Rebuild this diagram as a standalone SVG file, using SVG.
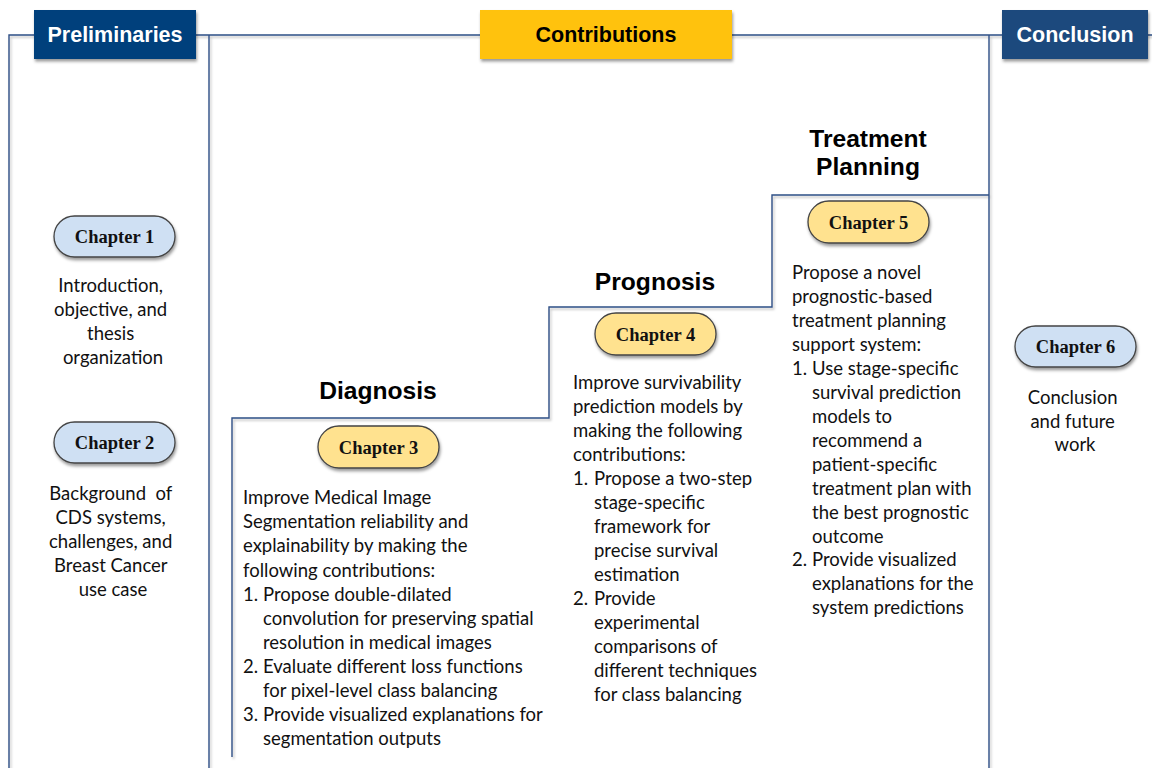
<svg xmlns="http://www.w3.org/2000/svg" width="1152" height="768" viewBox="0 0 1152 768">
  <defs>
    <filter id="lineShadow" x="-5%" y="-5%" width="110%" height="110%">
      <feDropShadow dx="1.5" dy="2" stdDeviation="1.2" flood-color="#000" flood-opacity="0.25"/>
    </filter>
    <filter id="boxShadow" x="-10%" y="-20%" width="120%" height="150%">
      <feDropShadow dx="1" dy="2.5" stdDeviation="1.5" flood-color="#000" flood-opacity="0.4"/>
    </filter>
  </defs>
  <style>
    .frame { fill: none; stroke: #2f5086; stroke-width: 1.4; }
    .hdr-text { font-family: "Liberation Sans", Arial, sans-serif; font-weight: bold; font-size: 21.5px; text-anchor: middle; }
    .stage { font-family: "Liberation Sans", Arial, sans-serif; font-weight: bold; font-size: 24.6px; text-anchor: middle; fill: #000; }
    .pill-blue { fill: #cfe0f3; stroke: #444; stroke-width: 1.3; }
    .pill-gold { fill: #ffe28f; stroke: #444; stroke-width: 1.3; }
    .pill-text { font-family: "Liberation Serif", "Times New Roman", serif; font-weight: bold; font-size: 18.5px; text-anchor: middle; fill: #111; }
    .body { font-family: Lato, "Open Sans", sans-serif; font-size: 18.5px; fill: #111; }
    .mid { text-anchor: middle; }
    .pre { white-space: pre; }
  </style>

  <!-- frame lines and stair steps -->
  <g id="connectors" filter="url(#lineShadow)">
    <path class="frame" d="M9,768 V35 H1152"/>
    <path class="frame" d="M209,35 V768"/>
    <path class="frame" d="M989,35 V768"/>
    <path class="frame" d="M232,757 V418 H549 V307 H772 V195 H989"/>
  </g>

  <!-- section headers -->
  <g id="hdr-preliminaries">
    <rect x="34" y="10" width="162" height="49" fill="#023f7c" filter="url(#boxShadow)"/>
    <text class="hdr-text" x="115" y="41.5" fill="#fff">Preliminaries</text>
  </g>
  <g id="hdr-contributions">
    <rect x="480" y="10" width="252" height="49" fill="#ffc20e" filter="url(#boxShadow)"/>
    <text class="hdr-text" x="606" y="41.5" fill="#000">Contributions</text>
  </g>
  <g id="hdr-conclusion">
    <rect x="1002" y="10" width="146" height="49" fill="#1f497d" filter="url(#boxShadow)"/>
    <text class="hdr-text" x="1075" y="41.5" fill="#fff">Conclusion</text>
  </g>

  <!-- stage titles -->
  <g id="stage-diagnosis"><text class="stage" x="378" y="398.5">Diagnosis</text></g>
  <g id="stage-prognosis"><text class="stage" x="655" y="289.5">Prognosis</text></g>
  <g id="stage-treatment">
    <text class="stage" x="868" y="146.5">Treatment</text>
    <text class="stage" x="868" y="174.5">Planning</text>
  </g>

  <!-- Chapter 1 -->
  <g id="chapter1">
    <rect class="pill-blue" x="54" y="216" width="121" height="41" rx="20.5" filter="url(#boxShadow)"/>
    <text class="pill-text" x="114.5" y="243">Chapter 1</text>
    <text class="body mid" x="113">
      <tspan x="113" y="292">Introduction,</tspan>
      <tspan x="113" y="316">objective, and</tspan>
      <tspan x="113" y="340">thesis</tspan>
      <tspan x="113" y="364">organization</tspan>
    </text>
  </g>

  <!-- Chapter 2 -->
  <g id="chapter2">
    <rect class="pill-blue" x="54" y="422" width="121" height="41" rx="20.5" filter="url(#boxShadow)"/>
    <text class="pill-text" x="114.5" y="449">Chapter 2</text>
    <text class="body mid" x="113">
      <tspan class="pre" x="113" y="500">Background  of</tspan>
      <tspan x="113" y="524">CDS systems,</tspan>
      <tspan x="113" y="548">challenges, and</tspan>
      <tspan x="113" y="572">Breast Cancer</tspan>
      <tspan x="113" y="596">use case</tspan>
    </text>
  </g>

  <!-- Chapter 3 -->
  <g id="chapter3">
    <rect class="pill-gold" x="318" y="426" width="121" height="42" rx="21" filter="url(#boxShadow)"/>
    <text class="pill-text" x="378.5" y="453.5">Chapter 3</text>
    <text class="body">
      <tspan x="243" y="504">Improve Medical Image</tspan>
      <tspan x="243" y="528">Segmentation reliability and</tspan>
      <tspan x="243" y="552">explainability by making the</tspan>
      <tspan x="243" y="577">following contributions:</tspan>
      <tspan x="243" y="601">1.</tspan><tspan x="263" y="601">Propose double-dilated</tspan>
      <tspan x="263" y="625">convolution for preserving spatial</tspan>
      <tspan x="263" y="649">resolution in medical images</tspan>
      <tspan x="243" y="673">2.</tspan><tspan x="263" y="673">Evaluate different loss functions</tspan>
      <tspan x="263" y="697">for pixel-level class balancing</tspan>
      <tspan x="243" y="721">3.</tspan><tspan x="263" y="721">Provide visualized explanations for</tspan>
      <tspan x="263" y="745">segmentation outputs</tspan>
    </text>
  </g>

  <!-- Chapter 4 -->
  <g id="chapter4">
    <rect class="pill-gold" x="595" y="313" width="121" height="42" rx="21" filter="url(#boxShadow)"/>
    <text class="pill-text" x="655.5" y="340.5">Chapter 4</text>
    <text class="body">
      <tspan x="573" y="389">Improve survivability</tspan>
      <tspan x="573" y="413">prediction models by</tspan>
      <tspan x="573" y="437">making the following</tspan>
      <tspan x="573" y="461">contributions:</tspan>
      <tspan x="573" y="485">1.</tspan><tspan x="594" y="485">Propose a two-step</tspan>
      <tspan x="594" y="509">stage-specific</tspan>
      <tspan x="594" y="533">framework for</tspan>
      <tspan x="594" y="557">precise survival</tspan>
      <tspan x="594" y="581">estimation</tspan>
      <tspan x="573" y="605">2.</tspan><tspan x="594" y="605">Provide</tspan>
      <tspan x="594" y="629">experimental</tspan>
      <tspan x="594" y="653">comparisons of</tspan>
      <tspan x="594" y="677">different techniques</tspan>
      <tspan x="594" y="701">for class balancing</tspan>
    </text>
  </g>

  <!-- Chapter 5 -->
  <g id="chapter5">
    <rect class="pill-gold" x="808" y="201" width="121" height="42" rx="21" filter="url(#boxShadow)"/>
    <text class="pill-text" x="868.5" y="228.5">Chapter 5</text>
    <text class="body">
      <tspan x="792" y="279">Propose a novel</tspan>
      <tspan x="792" y="303">prognostic-based</tspan>
      <tspan x="792" y="327">treatment planning</tspan>
      <tspan x="792" y="351">support system:</tspan>
      <tspan x="792" y="375">1.</tspan><tspan x="812" y="375">Use stage-specific</tspan>
      <tspan x="812" y="399">survival prediction</tspan>
      <tspan x="812" y="423">models to</tspan>
      <tspan x="812" y="447">recommend a</tspan>
      <tspan x="812" y="471">patient-specific</tspan>
      <tspan x="812" y="495">treatment plan with</tspan>
      <tspan x="812" y="519">the best prognostic</tspan>
      <tspan x="812" y="543">outcome</tspan>
      <tspan x="792" y="566">2.</tspan><tspan x="812" y="566">Provide visualized</tspan>
      <tspan x="812" y="590">explanations for the</tspan>
      <tspan x="812" y="614">system predictions</tspan>
    </text>
  </g>

  <!-- Chapter 6 -->
  <g id="chapter6">
    <rect class="pill-blue" x="1015" y="326" width="121" height="41" rx="20.5" filter="url(#boxShadow)"/>
    <text class="pill-text" x="1075.5" y="353">Chapter 6</text>
    <text class="body mid" x="1075">
      <tspan x="1075" y="404">Conclusion</tspan>
      <tspan x="1075" y="428">and future</tspan>
      <tspan x="1075" y="451">work</tspan>
    </text>
  </g>
</svg>
